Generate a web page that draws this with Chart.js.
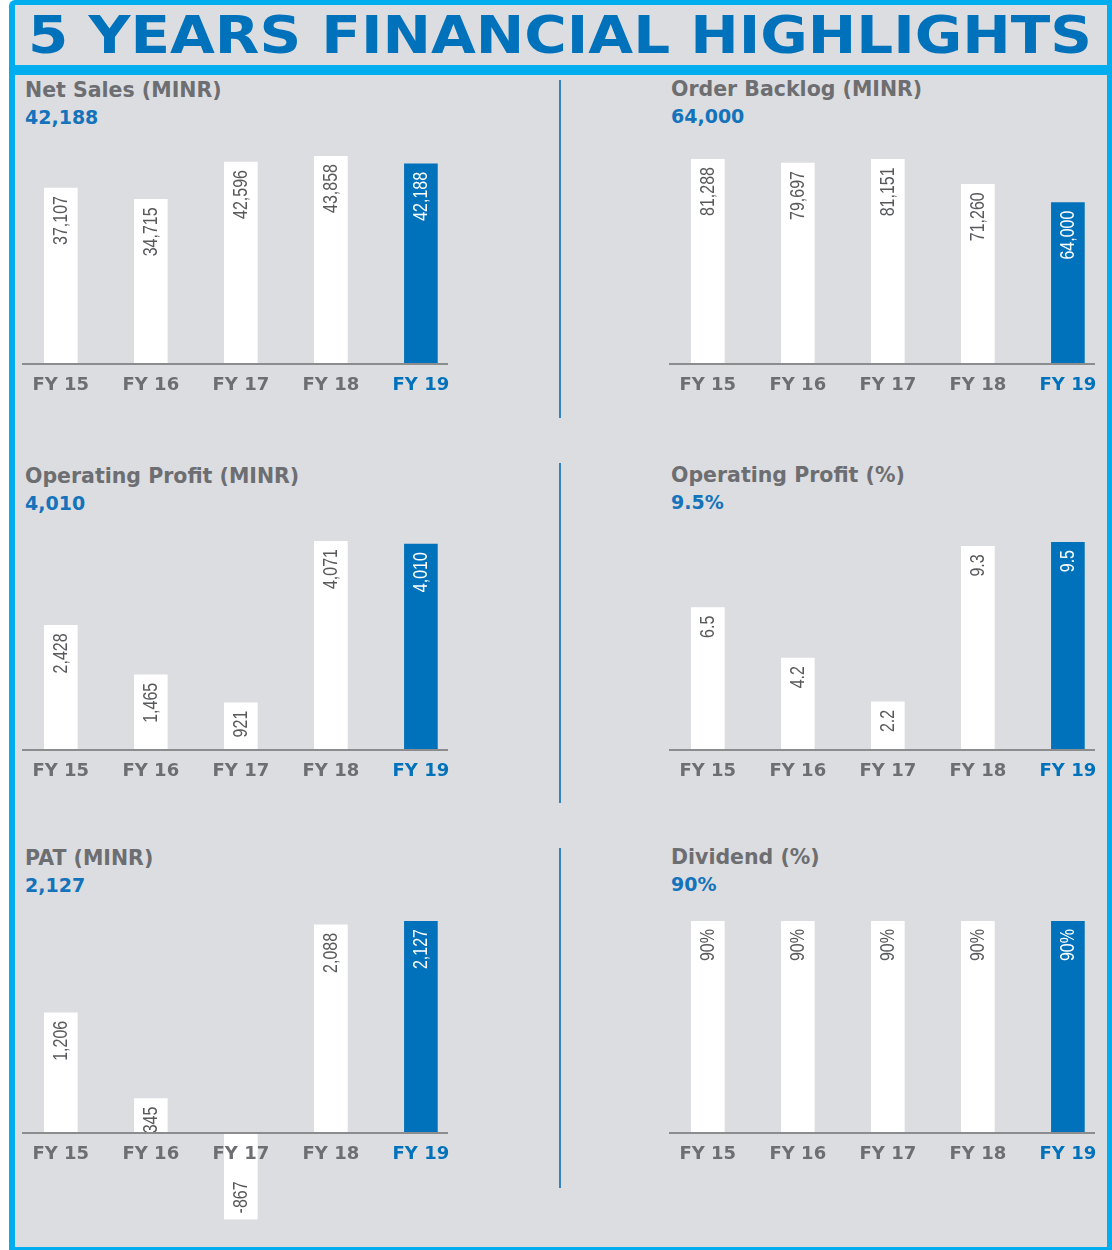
<!DOCTYPE html>
<html>
<head>
<meta charset="utf-8">
<script src="https://cdn.jsdelivr.net/npm/chart.js@4.4.1/dist/chart.umd.min.js"></script>
<style>
  html, body { margin: 0; padding: 0; background: #fff; }
  body { width: 1112px; height: 1250px; position: relative; overflow: hidden; font-family: 'DejaVu Sans', sans-serif; }
  #frame { position: absolute; left: 9px; top: 0; width: 1103px; height: 1250px; background: #00aeef; border-top-left-radius: 6px; }
  .bg { position: absolute; left: 15px; width: 1092px; background: #dcdde0; }
  #title { position: absolute; left: 28px; top: 9px; font: bold 52px/52px 'DejaVu Sans', sans-serif; color: #0072bc; white-space: nowrap; transform-origin: 0 0; }
  .name { position: absolute; font: bold 20.5px/20px 'DejaVu Sans', sans-serif; color: #6d6e71; white-space: nowrap; }
  .value { position: absolute; font: bold 19px/19px 'DejaVu Sans', sans-serif; color: #1473bb; white-space: nowrap; }
  .divider { position: absolute; left: 559px; width: 2px; background: #3283c4; }
  canvas { position: absolute; }
</style>
</head>
<body>
<div id="frame"></div>
<div class="bg" style="top:5px;height:60px"></div>
<div class="bg" style="top:75px;height:1172px"></div>
<span id="title">5 YEARS FINANCIAL HIGHLIGHTS</span>
<div class="divider" style="top:80px;height:338px"></div>
<div class="divider" style="top:463px;height:340px"></div>
<div class="divider" style="top:848px;height:340px"></div>
<script>
// values
const years = ['FY 15', 'FY 16', 'FY 17', 'FY 18', 'FY 19'];
const netSales = [37107, 34715, 42596, 43858, 42188];
const orderBacklog = [81288, 79697, 81151, 71260, 64000];
const opProfit = [2428, 1465, 921, 4071, 4010];
const opProfitPct = [6.5, 4.2, 2.2, 9.3, 9.5];
const pat = [1206, 345, -867, 2088, 2127];
const dividend = [90, 90, 90, 90, 90];

const BLUE = '#0071bb';
const TICK_GRAY = '#6d6e71';
const LABEL_GRAY = '#58595b';

const fmtInt = v => v.toLocaleString('en-US');
const fmtDec = v => v.toFixed(1);
const fmtPct = v => v + '%';

// fit title into the box width
const title = document.getElementById('title');
title.style.transform = 'scaleX(' + (1064 / title.getBoundingClientRect().width) + ')';

const panels = [
  { title: 'Net Sales (MINR)', values: netSales, fmt: fmtInt, head: fmtInt, col: 0, row: 0, axisY: 364, topY: 156 },
  { title: 'Order Backlog (MINR)', values: orderBacklog, fmt: fmtInt, head: fmtInt, col: 1, row: 0, axisY: 364, topY: 159 },
  { title: 'Operating Profit (MINR)', values: opProfit, fmt: fmtInt, head: fmtInt, col: 0, row: 1, axisY: 750, topY: 541 },
  { title: 'Operating Profit (%)', values: opProfitPct, fmt: fmtDec, head: v => fmtDec(v) + '%', col: 1, row: 1, axisY: 750, topY: 542 },
  { title: 'PAT (MINR)', values: pat, fmt: fmtInt, head: fmtInt, col: 0, row: 2, axisY: 1133, topY: 921 },
  { title: 'Dividend (%)', values: dividend, fmt: fmtPct, head: fmtPct, col: 1, row: 2, axisY: 1133, topY: 921 },
];

const COL_TEXT_X = [25, 671];
const COL_AXIS_X = [23, 670];
const ROW_SHIFT = [0, 386, 768];
const AXIS_LEN = 424;
const SIDE_PAD = 20;
const TOP_PAD = 12;

// value labels written upward inside each bar, in a narrow face
const barLabels = {
  id: 'barLabels',
  afterDatasetsDraw(chart, args, opts) {
    const { ctx } = chart;
    const meta = chart.getDatasetMeta(0);
    const last = opts.values.length - 1;
    ctx.save();
    ctx.font = '20px "Liberation Sans", Arial, sans-serif';
    ctx.textBaseline = 'middle';
    meta.data.forEach((bar, i) => {
      const v = opts.values[i];
      const neg = v < 0;
      ctx.save();
      ctx.translate(bar.x, neg ? bar.y - 6 : bar.y + 8);
      ctx.rotate(-Math.PI / 2);
      ctx.scale(0.8, 1);
      ctx.textAlign = neg ? 'left' : 'right';
      ctx.fillStyle = i === last ? '#ffffff' : LABEL_GRAY;
      ctx.fillText(opts.fmt(v), 0, 1);
      ctx.restore();
    });
    ctx.restore();
  }
};

panels.forEach(p => {
  const shift = ROW_SHIFT[p.row] - (p.col === 1 ? 1 : 0);
  const name = document.createElement('div');
  name.className = 'name';
  name.textContent = p.title;
  name.style.left = COL_TEXT_X[p.col] + 'px';
  name.style.top = (80 + shift) + 'px';
  document.body.appendChild(name);

  const val = document.createElement('div');
  val.className = 'value';
  val.textContent = p.head(p.values[p.values.length - 1]);
  val.style.left = COL_TEXT_X[p.col] + 'px';
  val.style.top = (108 + shift) + 'px';
  document.body.appendChild(val);

  const max = Math.max(...p.values);
  const min = Math.min(0, ...p.values);
  const plotH = p.axisY - p.topY;
  const below = plotH * (-min / max);
  const h = Math.round(TOP_PAD + plotH + below + (min < 0 ? 12 : 42));
  const bottomPad = h - TOP_PAD - plotH - below;

  const canvas = document.createElement('canvas');
  canvas.width = AXIS_LEN + SIDE_PAD * 2;
  canvas.height = h;
  canvas.style.left = (COL_AXIS_X[p.col] - SIDE_PAD) + 'px';
  canvas.style.top = (p.topY - TOP_PAD) + 'px';
  document.body.appendChild(canvas);

  const last = p.values.length - 1;
  new Chart(canvas, {
    type: 'bar',
    data: {
      datasets: [{
        data: p.values.map((v, i) => ({ x: i, y: v })),
        backgroundColor: p.values.map((v, i) => i === last ? BLUE : '#ffffff'),
        borderWidth: 0,
        barThickness: 33,
      }],
    },
    options: {
      responsive: false,
      animation: false,
      layout: { padding: { left: SIDE_PAD, right: SIDE_PAD, top: TOP_PAD, bottom: bottomPad } },
      plugins: {
        legend: { display: false },
        tooltip: { enabled: false },
        barLabels: { values: p.values, fmt: p.fmt },
      },
      scales: {
        x: {
          type: 'linear',
          axis: 'x',
          offset: false,
          min: -0.42,
          max: 4.29,
          position: { y: 0 },
          grid: { display: false, drawTicks: false },
          border: { display: true, color: '#8b8c8e', width: 2, z: 1 },
          afterBuildTicks: s => { s.ticks = years.map((_, i) => ({ value: i })); },
          ticks: {
            z: 1,
            padding: 11,
            autoSkip: false,
            maxRotation: 0,
            color: c => (c.tick && c.tick.value === last) ? BLUE : TICK_GRAY,
            font: { family: 'DejaVu Sans', weight: 'bold', size: 18 },
            callback: v => years[v],
          },
        },
        y: { display: false, min: min, max: max },
      },
    },
    plugins: [barLabels],
  });
});
</script>
</body>
</html>
